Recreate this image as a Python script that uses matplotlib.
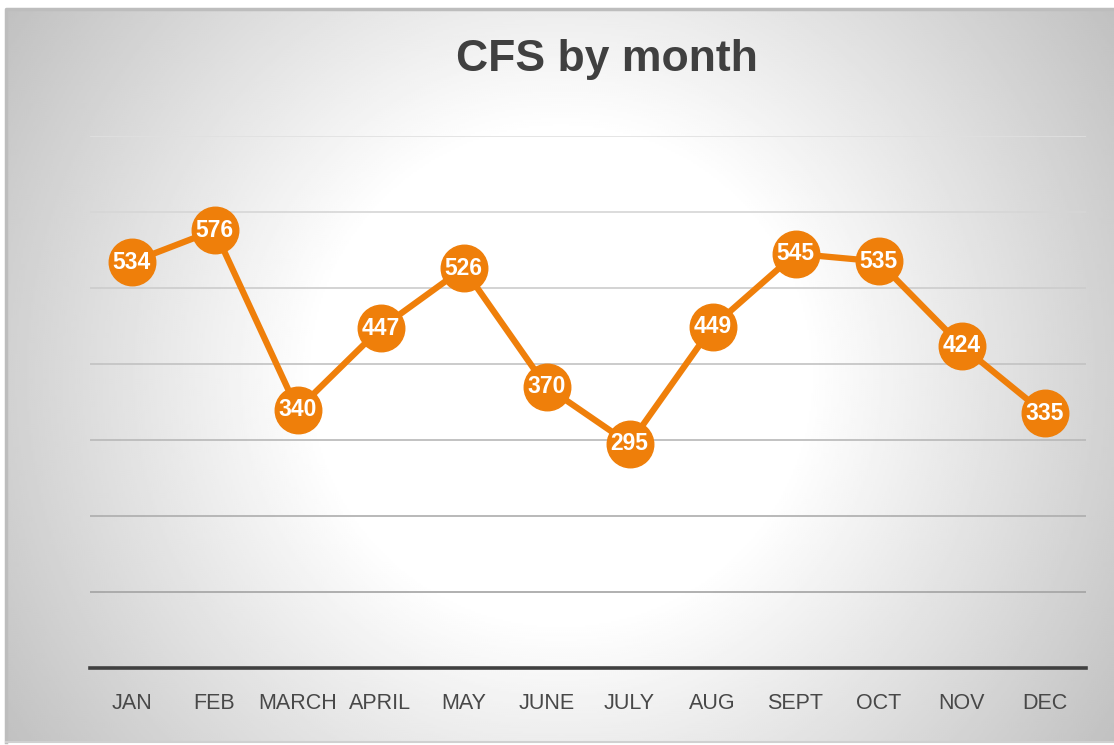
import numpy as np
import matplotlib.pyplot as plt

months = ["JAN", "FEB", "MARCH", "APRIL", "MAY", "JUNE", "JULY", "AUG", "SEPT", "OCT", "NOV", "DEC"]
cfs = [534, 576, 340, 447, 526, 370, 295, 449, 545, 535, 424, 335]
grid_levels = [100, 200, 300, 400, 500, 600, 700]

orange = "#EF7F0A"

fig = plt.figure(figsize=(11.14, 7.45), dpi=100)

# chart area with radial gradient (white middle, grey edges), done in pixel units
bg = fig.add_axes([6 / 1114, 3 / 745, 1 - 6 / 1114, (745 - 12) / 745])
bg.set_axis_off()
w, h = 1108, 733
yy, xx = np.mgrid[0:h:2, 0:w:2]
d = np.hypot(xx - w / 2, yy - h / 2)
shade = 1 - 0.000585 * np.clip(d - 246, 0, None)
bg.imshow(shade, cmap="gray", vmin=0, vmax=1, aspect="auto", extent=[0, 1, 0, 1], interpolation="bilinear")
bg.plot([0, 0, 1], [0, 1, 1], color="#bdbdbd", lw=2.5, transform=bg.transAxes, clip_on=False)
bg.plot([0, 1], [0, 0], color="#d0d0d0", lw=1.5, transform=bg.transAxes, clip_on=False)
bg.set_xlim(0, 1)
bg.set_ylim(0, 1)

ax = fig.add_axes([90 / 1114, (745 - 668) / 745, (1086 - 90) / 1114, (668 - 136) / 745])
ax.patch.set_alpha(0)
x = np.arange(len(months))

# gridlines, lighter toward the top
for i, lvl in enumerate(grid_levels):
    g = 0.64 + 0.24 * i / (len(grid_levels) - 1)
    ax.axhline(lvl, color=(g, g, g), lw=1.2, zorder=1)
ax.axhline(0, color="#404040", lw=2.6, zorder=2, clip_on=False)

ax.plot(x, cfs, color=orange, lw=4.5, marker="o", markersize=33.5, markerfacecolor=orange,
        markeredgecolor=orange, zorder=3)
for xi, v in zip(x, cfs):
    ax.text(xi, v, str(v), ha="center", va="center", color="white", fontsize=16.5,
            fontweight="bold", family="Liberation Sans", zorder=4)

ax.set_xlim(-0.5, len(months) - 0.5)
ax.set_ylim(0, 700)
ax.set_xticks(x)
ax.set_xticklabels(months, fontsize=15.5, color="#484848", family="Liberation Sans")
ax.tick_params(axis="x", length=0, pad=18)
ax.set_yticks([])
for s in ax.spines.values():
    s.set_visible(False)

fig.text(607 / 1114, 1 - 60 / 745, "CFS by month", ha="center", va="center", fontsize=32,
         fontweight="bold", color="#404040", family="Liberation Sans")

fig.savefig("out.png", dpi=100)
